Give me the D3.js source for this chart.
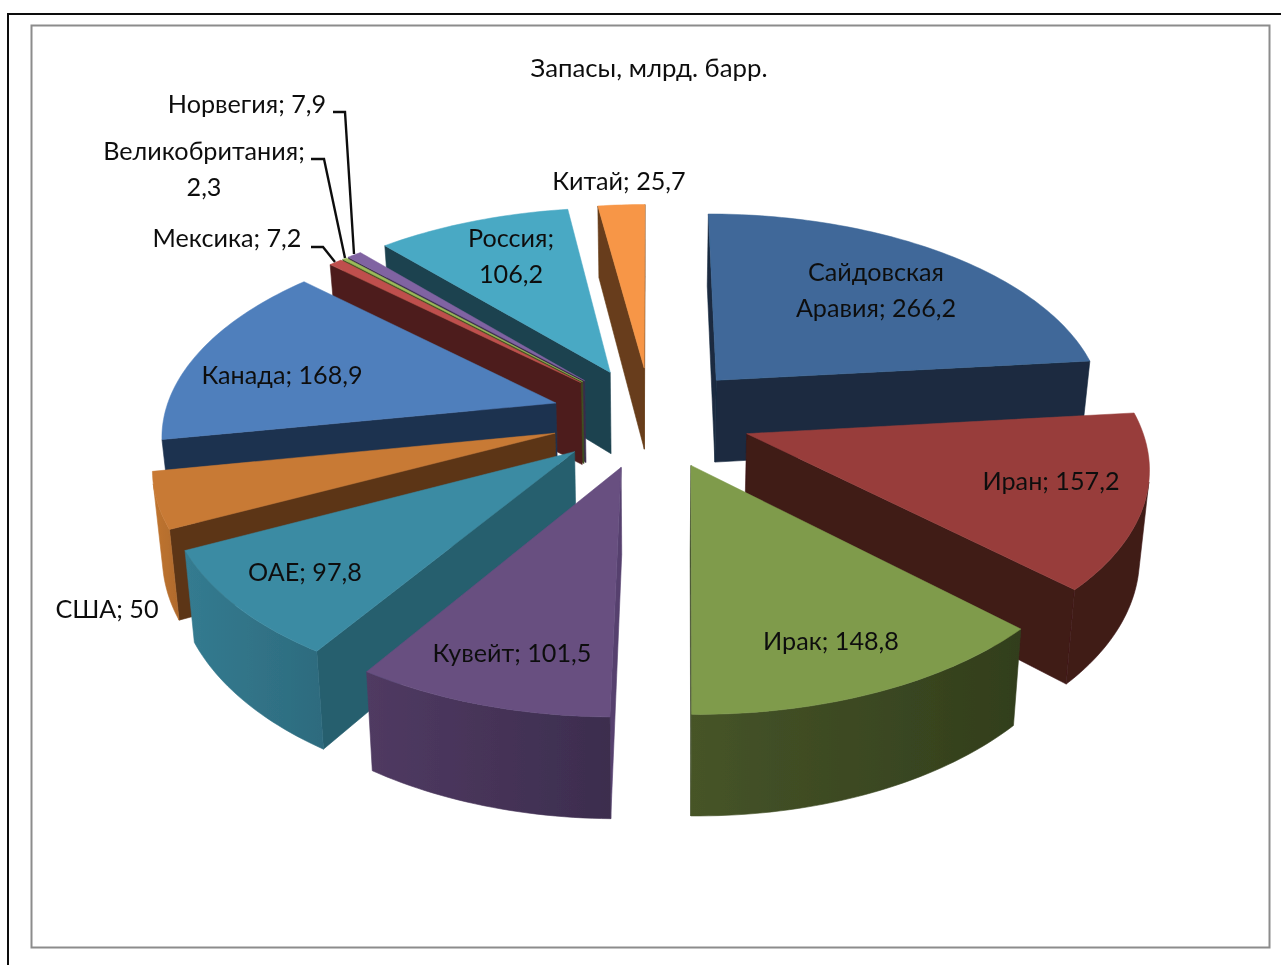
<!DOCTYPE html>
<html lang="en">
  <head>
    <meta charset="utf-8">
    <title>Запасы, млрд. барр.</title>
    <script src="https://d3js.org/d3.v7.min.js"></script>
    <style>
      html, body { margin: 0; padding: 0; background: #fff; overflow: hidden; }
      svg { display: block; }
      text { font-family: Lato, "Open Sans", sans-serif; font-size: 25.2px; fill: #111; text-anchor: middle; }
    </style>
  </head>
  <body>
    <div id="viz"></div>
    <script>
      // data, in the order the slices go round clockwise from the top
      const chartTitle = "Запасы, млрд. барр."
      const countries = ["Сайдовская Аравия", "Иран", "Ирак", "Кувейт", "ОАЕ", "США", "Канада", "Мексика", "Великобритания", "Норвегия", "Россия", "Китай"]
      const reserves = [266.2, 157.2, 148.8, 101.5, 97.8, 50, 168.9, 7.2, 2.3, 7.9, 106.2, 25.7]

      // colours per slice
      const topColors = ["#3f6899", "#983e3b", "#7f9b4b", "#674f80", "#3b8ba3", "#c87a35", "#4f7fbc", "#bf504d", "#9bbb59", "#8064a2", "#4aa9c4", "#f79646"]
      const sideColors = ["#1a2a40", "#3f1a18", "#323e1c", "#56416e", "#265e6e", "#5c3518", "#1f3350", "#4e1f1d", "#3f4f20", "#3a2c4b", "#1e4350", "#673d1a"]
      const rimLeft = ["#1a2a40", "#3f1a18", "#465428", "#503a62", "#347b90", "#c07530", "#1f3350", "#4e1f1d", "#3f4f20", "#3a2c4b", "#1e4350", "#673d1a"]
      const rimRight = ["#1a2a40", "#3f1a18", "#323e1c", "#3c2d4e", "#2d6b7e", "#b06a2c", "#1f3350", "#4e1f1d", "#3f4f20", "#3a2c4b", "#1e4350", "#673d1a"]

      // label placement: centre x, first baseline, words on the first line (0 = no wrap)
      const labelX = [876, 1051, 831, 512, 305, 107, 282, 227, 204, 247, 511, 619]
      const labelY = [281, 490, 650, 662, 581, 618, 384, 247, 160, 113, 247, 190]
      const labelWrap = [1, 0, 0, 0, 0, 0, 0, 0, 1, 0, 1, 0]
      const lineGap = 36

      // leader lines for the three thin slices
      const leaders = [
        [[311, 247], [323, 247], [335, 262]],
        [[311, 159], [324, 159], [345, 258]],
        [[333, 112], [345, 112], [354, 254]]
      ]

      const width = 1281, height = 965

      // pie geometry
      const cx = 651, cy = 417
      const R = 392
      const tilt = 0.508       // vertical squash of the plane
      const persp = 0.14       // how much nearer points grow
      const explode = 0.255    // slice offset, in radii
      const depth = 84         // wall height
      const narrow = 0.02      // walls lean inwards going down

      const svg = d3.select("#viz").append("svg")
        .attr("width", width)
        .attr("height", height)

      const defs = svg.append("defs")
      defs.append("filter").attr("id", "soft")
        .attr("filterUnits", "userSpaceOnUse")
        .attr("x", 0).attr("y", 0).attr("width", width).attr("height", height)
        .append("feGaussianBlur").attr("stdDeviation", 0.55)

      // the source is a slightly soft screenshot, so everything sits under the blur
      const root = svg.append("g").attr("filter", "url(#soft)")

      // frame
      root.append("path")
        .attr("d", d3.line()([[8, height], [8, 14], [width, 14]]))
        .attr("fill", "none").attr("stroke", "#111").attr("stroke-width", 2)
      root.append("rect")
        .attr("x", 31.5).attr("y", 25.5).attr("width", 1238).attr("height", 922)
        .attr("fill", "#fff").attr("stroke", "#8c8c8c").attr("stroke-width", 2)

      const pie = d3.pie().sort(null).value(d => d)
      const arcs = pie(reserves).map((a, i) => ({...a, i, mid: (a.startAngle + a.endAngle) / 2}))

      // plane coordinates (radii, y towards the viewer), down = height under the top face
      function project(px, py, down) {
        const s = 1 / (1 - persp * py)
        const lean = 1 - narrow * down / depth
        return [
          cx + px * R * s * lean,
          cy + py * R * tilt * s + down * s
        ]
      }

      const line = d3.line()

      // draw back slices first
      const order = d3.sort(arcs, a => -Math.cos(a.mid))

      order.forEach(a => {
        const ox = explode * Math.sin(a.mid)
        const oy = -explode * Math.cos(a.mid)
        const rim = t => [ox + Math.sin(t), oy - Math.cos(t)]
        const steps = Math.max(2, Math.ceil((a.endAngle - a.startAngle) / 0.02))
        const angles = d3.range(steps + 1).map(j => a.startAngle + (a.endAngle - a.startAngle) * j / steps)
        const apex = [ox, oy]
        const g = root.append("g")

        const quad = (p, q) => [project(...p, 0), project(...q, 0), project(...q, depth), project(...p, depth)]
        const wall = (pts, fill) => g.append("path")
          .attr("d", line(pts) + "Z")
          .attr("fill", fill)
          .attr("stroke", fill)
          .attr("stroke-width", 0.6)

        // radial walls, only the ones turned towards the viewer
        const startWall = quad(apex, rim(a.startAngle))
        const endWall = quad(rim(a.endAngle), apex)
        if (d3.polygonArea(startWall) > 0) wall(startWall, sideColors[a.i])
        if (d3.polygonArea(endWall) > 0) wall(endWall, sideColors[a.i])

        // outer wall: keep only the run of segments facing the viewer
        const facing = angles.slice(1)
          .map((t, j) => [angles[j], t])
          .filter(([t0, t1]) => d3.polygonArea(quad(rim(t0), rim(t1))) > 0)
        if (facing.length) {
          const front = [facing[0][0], ...facing.map(f => f[1])]
          const topEdge = front.map(t => project(...rim(t), 0))
          const lowEdge = front.map(t => project(...rim(t), depth)).reverse()
          const pts = topEdge.concat(lowEdge)
          const grad = defs.append("linearGradient")
            .attr("id", "rim" + a.i)
            .attr("gradientUnits", "userSpaceOnUse")
            .attr("x1", d3.min(pts, p => p[0])).attr("x2", d3.max(pts, p => p[0]))
            .attr("y1", 0).attr("y2", 0)
          grad.append("stop").attr("offset", 0).attr("stop-color", rimLeft[a.i])
          grad.append("stop").attr("offset", 1).attr("stop-color", rimRight[a.i])
          g.append("path")
            .attr("d", line(pts) + "Z")
            .attr("fill", "url(#rim" + a.i + ")")
            .attr("stroke", "url(#rim" + a.i + ")")
            .attr("stroke-width", 0.6)
        }

        // top face
        const face = [apex, ...angles.map(rim)].map(p => project(...p, 0))
        g.append("path")
          .attr("d", line(face) + "Z")
          .attr("fill", topColors[a.i])
          .attr("stroke", topColors[a.i])
          .attr("stroke-width", 0.5)
      })

      // leader lines
      root.selectAll(".leader").data(leaders).enter().append("path")
        .attr("class", "leader")
        .attr("d", d => line(d))
        .attr("fill", "none")
        .attr("stroke", "#111")
        .attr("stroke-width", 2.4)

      // labels
      root.append("text").attr("x", 649).attr("y", 77).style("font-size", "25.8px").text(chartTitle)

      countries.forEach((name, i) => {
        const full = name + "; " + String(reserves[i]).replace(".", ",")
        const words = full.split(" ")
        const lines = labelWrap[i]
          ? [words.slice(0, labelWrap[i]).join(" "), words.slice(labelWrap[i]).join(" ")]
          : [full]
        lines.forEach((t, j) => {
          root.append("text")
            .attr("x", labelX[i])
            .attr("y", labelY[i] + j * lineGap)
            .text(t)
        })
      })
    </script>
  </body>
</html>
